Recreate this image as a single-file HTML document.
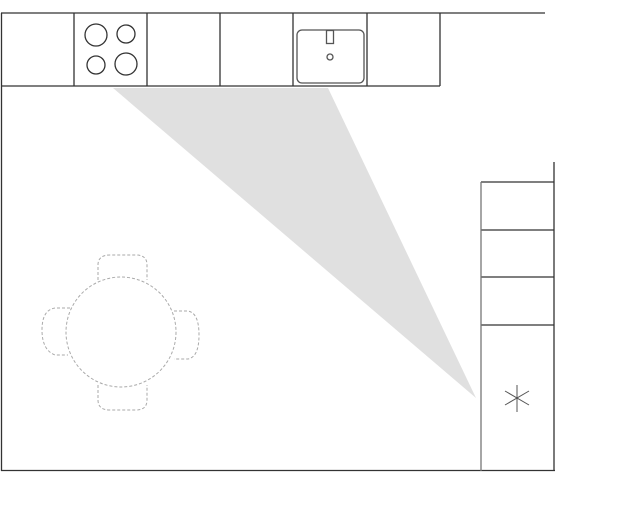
<!DOCTYPE html>
<html><head><style>html,body{margin:0;padding:0;background:#fff;width:640px;height:520px;overflow:hidden}</style></head>
<body>
<svg width="640" height="520" viewBox="0 0 640 520" xmlns="http://www.w3.org/2000/svg">
<polygon points="113,88 328,88 476,398" fill="#e0e0e0"/>
<g stroke="#333" stroke-width="1.3" fill="none">
<line x1="1" y1="13" x2="545" y2="13"/>
<line x1="1.5" y1="13" x2="1.5" y2="471"/>
<line x1="1" y1="470.5" x2="555" y2="470.5"/>
<line x1="554" y1="162" x2="554" y2="471"/>
<line x1="1" y1="86" x2="440" y2="86"/>
<line x1="74" y1="13" x2="74" y2="86"/>
<line x1="147" y1="13" x2="147" y2="86"/>
<line x1="220" y1="13" x2="220" y2="86"/>
<line x1="293" y1="13" x2="293" y2="86"/>
<line x1="367" y1="13" x2="367" y2="86"/>
<line x1="440" y1="13" x2="440" y2="86"/>
<circle cx="96" cy="35" r="11"/>
<circle cx="126" cy="34" r="9"/>
<circle cx="96" cy="65" r="9"/>
<circle cx="126" cy="64" r="11"/>
<rect x="297" y="30" width="67" height="53" rx="5" stroke="#555"/>
<rect x="326.5" y="30.5" width="7" height="13" stroke="#555"/>
<circle cx="330" cy="57" r="3" stroke="#555"/>
<line x1="481" y1="182" x2="554" y2="182"/>
<line x1="481" y1="230" x2="554" y2="230"/>
<line x1="481" y1="277" x2="554" y2="277"/>
<line x1="481" y1="325" x2="554" y2="325"/>
<line x1="481" y1="182" x2="481" y2="471" stroke="#777"/>
</g>
<g stroke="#555" stroke-width="1">
<line x1="517" y1="385" x2="517" y2="412"/>
<line x1="505" y1="391" x2="529" y2="405"/>
<line x1="505" y1="405" x2="529" y2="391"/>
</g>
<g stroke="#aaa" stroke-width="1" stroke-dasharray="3,2" fill="none">
<circle cx="121" cy="332" r="55"/>
<path d="M98,280 L98,265 Q98,255 110,255 L136,255 Q147,255 147,265 L147,280"/>
<path d="M98,385 L98,400 Q98,410 110,410 L136,410 Q147,410 147,400 L147,385"/>
<path d="M70,308 L55,308 Q42,310 42,330 Q42,350 55,355 L68,355"/>
<path d="M174,311 L188,311 Q199,313 199,335 Q199,357 188,359 L174,359"/>
</g>
</svg>
</body></html>
